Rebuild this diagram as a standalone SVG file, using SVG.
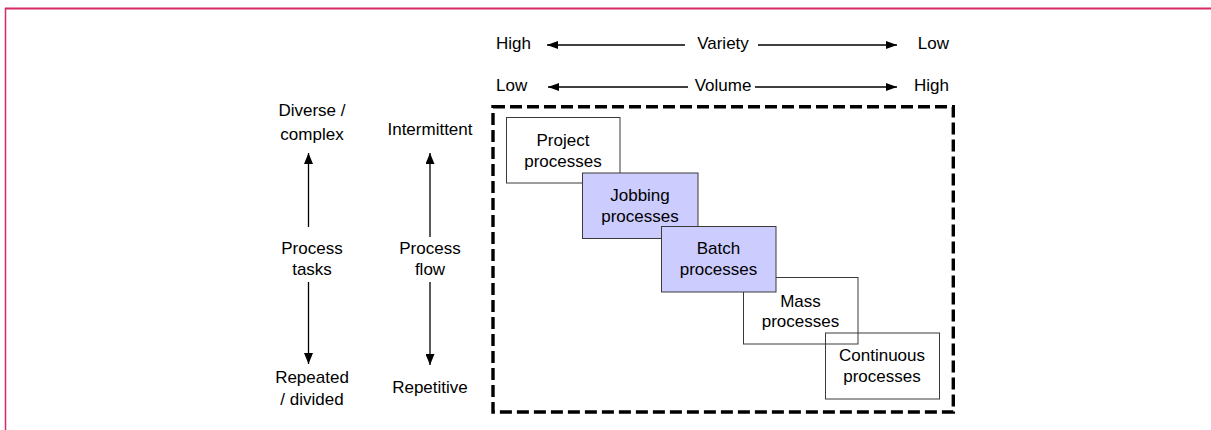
<svg xmlns="http://www.w3.org/2000/svg" width="1211" height="430" viewBox="0 0 1211 430">
  <style>
    text { font-family: "Liberation Sans", Arial, sans-serif; font-size: 17px; fill: #000; }
    .c { text-anchor: middle; }
    .s { text-anchor: start; }
    .e { text-anchor: end; }
    .box { stroke: #3a3a3a; stroke-width: 1; }
    .white { fill: #ffffff; }
    .purple { fill: #ccccff; }
    .none { fill: none; }
    .arr { stroke: #000; fill: none; stroke-width: 1.3; }
  </style>
  <defs>
    <marker id="ah" viewBox="0 0 11 8" refX="11" refY="4" markerWidth="11" markerHeight="8" markerUnits="userSpaceOnUse" orient="auto">
      <path d="M0,0 L11,4 L0,8 z" fill="#000"/>
    </marker>
    <marker id="ahb" viewBox="0 0 11 9" refX="11" refY="4.5" markerWidth="11" markerHeight="9" markerUnits="userSpaceOnUse" orient="auto">
      <path d="M0,0 L11,4.5 L0,9 z" fill="#000"/>
    </marker>
  </defs>
  <rect width="1211" height="430" fill="#fff"/>
  <g id="frame">
    <line x1="5" y1="8.5" x2="1211" y2="8.5" stroke="#d62a65" stroke-width="2"/>
    <line x1="5.5" y1="8" x2="5.5" y2="430" stroke="#d62a65" stroke-width="1.5"/>
  </g>
  <g id="boundary">
    <rect x="493" y="106.7" width="460.3" height="305.3" fill="none" stroke="#000" stroke-width="3.4" stroke-dasharray="12 5"/>
  </g>
  <g id="connectors">
    <line class="arr" x1="685" y1="45" x2="547" y2="45" marker-end="url(#ah)"/>
    <line class="arr" x1="758" y1="45" x2="897" y2="45" marker-end="url(#ah)"/>
    <line class="arr" x1="688" y1="87" x2="548" y2="87" marker-end="url(#ah)"/>
    <line class="arr" x1="755" y1="87" x2="897" y2="87" marker-end="url(#ah)"/>
    <line class="arr" x1="308.5" y1="227" x2="308.5" y2="153" stroke-width="2" marker-end="url(#ahb)"/>
    <line class="arr" x1="308.5" y1="282" x2="308.5" y2="364" stroke-width="2" marker-end="url(#ahb)"/>
    <line class="arr" x1="430" y1="237" x2="430" y2="153" stroke-width="1.2" marker-end="url(#ahb)"/>
    <line class="arr" x1="430" y1="282" x2="430" y2="365" stroke-width="1.2" marker-end="url(#ahb)"/>
  </g>
  <g id="variety-labels">
    <text class="s" x="496" y="49">High</text>
    <text class="c" x="723" y="49">Variety</text>
    <text class="e" x="949" y="49">Low</text>
  </g>
  <g id="volume-labels">
    <text class="s" x="496" y="90.5">Low</text>
    <text class="c" x="723" y="90.5">Volume</text>
    <text class="e" x="949" y="90.5">High</text>
  </g>
  <g id="process-tasks">
    <text class="c" x="312" y="116">Diverse /</text>
    <text class="c" x="312" y="140">complex</text>
    <text class="c" x="312" y="254">Process</text>
    <text class="c" x="312" y="275">tasks</text>
    <text class="c" x="312" y="383">Repeated</text>
    <text class="c" x="312" y="405">/ divided</text>
  </g>
  <g id="process-flow">
    <text class="c" x="430" y="135">Intermittent</text>
    <text class="c" x="430" y="254">Process</text>
    <text class="c" x="430" y="275">flow</text>
    <text class="c" x="430" y="393">Repetitive</text>
  </g>
  <g id="project">
    <rect class="box white" x="506.5" y="117.5" width="113.5" height="65.5"/>
    <text class="c" x="563" y="146">Project</text>
    <text class="c" x="563" y="167">processes</text>
  </g>
  <g id="jobbing">
    <rect class="box purple" x="582.5" y="173" width="115.5" height="65.5"/>
    <text class="c" x="640" y="201">Jobbing</text>
    <text class="c" x="640" y="222">processes</text>
  </g>
  <g id="mass">
    <rect class="box white" x="743.5" y="277.5" width="114.5" height="66.5"/>
    <text class="c" x="800.5" y="306.5">Mass</text>
    <text class="c" x="800.5" y="327">processes</text>
  </g>
  <g id="batch">
    <rect class="box purple" x="661.5" y="226.5" width="114.5" height="65.5"/>
    <text class="c" x="718.5" y="254">Batch</text>
    <text class="c" x="718.5" y="275">processes</text>
  </g>
  <g id="continuous">
    <rect class="box none" x="825.5" y="333" width="114" height="66"/>
    <text class="c" x="882" y="361">Continuous</text>
    <text class="c" x="882" y="382">processes</text>
  </g>
</svg>
